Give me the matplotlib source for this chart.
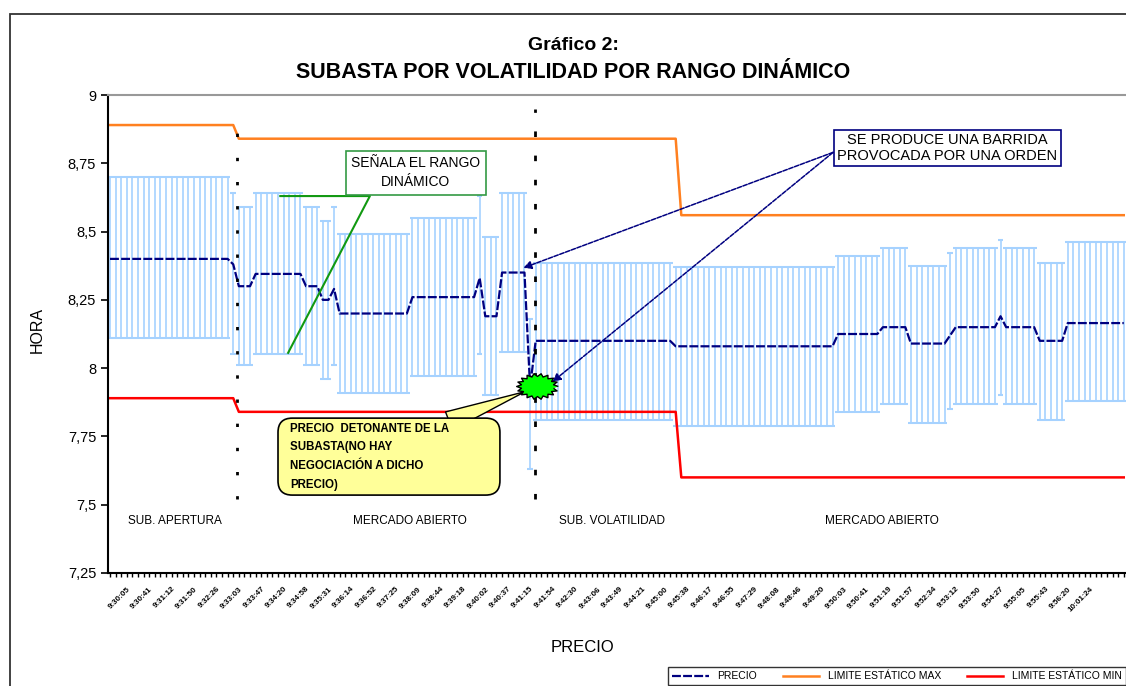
import matplotlib.pyplot as plt
import numpy as np
from matplotlib.path import Path
from matplotlib.patches import Rectangle, FancyBboxPatch

plt.rcParams['font.family'] = ['Liberation Sans', 'DejaVu Sans']

# tramos de operaciones: nº de operaciones, rango dinámico (alto/bajo) y precio
seg_len = [22, 1, 3, 9, 3, 2, 1, 13, 12, 1, 3, 5, 1, 25, 29, 8, 5, 7, 1, 8, 1, 6, 5, 11]
seg_alto = [8.70, 8.64, 8.59, 8.64, 8.59, 8.54, 8.59, 8.49, 8.55, 8.63, 8.48, 8.64,
            8.18, 8.385, 8.37, 8.41, 8.44, 8.375, 8.42, 8.44, 8.47, 8.44, 8.385, 8.46]
seg_bajo = [8.11, 8.05, 8.01, 8.05, 8.01, 7.96, 8.01, 7.91, 7.97, 8.05, 7.90, 8.06,
            7.63, 7.81, 7.79, 7.84, 7.87, 7.80, 7.85, 7.87, 7.90, 7.87, 7.81, 7.88]
seg_precio = [8.40, 8.38, 8.30, 8.345, 8.30, 8.25, 8.29, 8.20, 8.26, 8.33, 8.19, 8.35,
              7.93, 8.10, 8.08, 8.125, 8.15, 8.09, 8.12, 8.15, 8.19, 8.15, 8.10, 8.165]

# limites estaticos
lim_len = [23, 79, 80]
lim_max = [8.89, 8.84, 8.56]
lim_min = [7.89, 7.84, 7.60]

# cambios de fase (sub. apertura / mercado / sub. volatilidad)
cortes = [22.7, 75.8]

horas = ["9:30:05", "9:30:41", "9:31:12", "9:31:50", "9:32:26", "9:33:03", "9:33:47",
         "9:34:20", "9:34:58", "9:35:31", "9:36:14", "9:36:52", "9:37:25", "9:38:09",
         "9:38:44", "9:39:18", "9:40:02", "9:40:37", "9:41:15", "9:41:54", "9:42:30",
         "9:43:06", "9:43:49", "9:44:21", "9:45:00", "9:45:38", "9:46:17", "9:46:55",
         "9:47:29", "9:48:08", "9:48:46", "9:49:20", "9:50:03", "9:50:41", "9:51:19",
         "9:51:57", "9:52:34", "9:53:12", "9:53:50", "9:54:27", "9:55:05", "9:55:43",
         "9:56:20", "10:01:24"]

alto = np.repeat(seg_alto, seg_len)
bajo = np.repeat(seg_bajo, seg_len)
precio = np.repeat(seg_precio, seg_len)
maximo = np.repeat(lim_max, lim_len)
minimo = np.repeat(lim_min, lim_len)
x = np.arange(len(precio))

fig = plt.figure(figsize=(11.26, 6.86), dpi=100)
ax = fig.add_axes([108/1126, 113/686, 1018/1126, 478/686])

# marco exterior
fig.add_artist(Rectangle((10/1126, -0.5), 2, 1 - 14/686 + 0.5, transform=fig.transFigure,
                         fill=False, ec='#333333', lw=1.3))

# rango dinamico
azul_claro = '#A6D2FF'
ax.vlines(x, bajo, alto, color=azul_claro, lw=1.2, zorder=1)
ax.hlines(alto, x - 0.5, x + 0.5, color=azul_claro, lw=1.5, zorder=1)
ax.hlines(bajo, x - 0.5, x + 0.5, color=azul_claro, lw=1.5, zorder=1)

l1, = ax.plot(x, precio, color='#000080', lw=1.6, ls=(0, (4, 1)), zorder=3, label='PRECIO')
l2, = ax.plot(x, maximo, color='#FF8020', lw=1.8, zorder=2, label='LIMITE ESTÁTICO MAX')
l3, = ax.plot(x, minimo, color='#FF0000', lw=1.8, zorder=2, label='LIMITE ESTÁTICO MIN')

ax.vlines(cortes[0], 7.52, 8.87, color='black', lw=2, ls=(0, (1.2, 7.5)), zorder=4)
ax.vlines(cortes[1], 7.52, 8.95, color='black', lw=2, ls=(0, (2.0, 6.7)), zorder=4)

# fases
for xi, txt in [(11.6, 'SUB. APERTURA'), (53.6, 'MERCADO ABIERTO'),
                (89.6, 'SUB. VOLATILIDAD'), (137.9, 'MERCADO ABIERTO')]:
    ax.text(xi, 7.44, txt, ha='center', va='center', fontsize=8.5)

# señala el rango
ax.plot([30.4, 46.4, 31.8], [8.63, 8.63, 8.056], color='#119911', lw=1.5, zorder=5)
ax.text(54.6, 8.715, 'SEÑALA EL RANGO\nDINÁMICO', ha='center', va='center', fontsize=10,
        linespacing=1.45, zorder=6,
        bbox=dict(boxstyle='square,pad=0.4', fc='white', ec='#339944', lw=1.2))

# barrida
ax.text(149.5, 8.806, 'SE PRODUCE UNA BARRIDA\nPROVOCADA POR UNA ORDEN', ha='center',
        va='center', fontsize=10.5, linespacing=1.15, zorder=6,
        bbox=dict(boxstyle='square,pad=0.25', fc='white', ec='#000080', lw=1.2))
for xy in [(73.8, 8.367), (79.0, 7.95)]:
    ax.annotate('', xy=xy, xytext=(129.1, 8.79), zorder=7,
                arrowprops=dict(arrowstyle='-|>', color='#000080', lw=1.1,
                                ls=(0, (3, 1)), mutation_scale=12, shrinkA=0, shrinkB=0))

# precio detonante (globo amarillo)
caja = FancyBboxPatch((0.167, 0.163), 0.218, 0.161, transform=ax.transAxes,
                      boxstyle='round,pad=0,rounding_size=0.014', mutation_aspect=2.13,
                      fc='#FFFF99', ec='black', lw=1.2, zorder=6)
ax.add_patch(caja)
ax.annotate('', xy=(75.5, 7.925), xytext=(0.335, 0.318), textcoords='axes fraction',
            zorder=5, arrowprops=dict(arrowstyle='wedge,tail_width=1.4', fc='#FFFF99',
                                      ec='black', shrinkA=0, shrinkB=6))
ax.text(0.179, 0.243, 'PRECIO  DETONANTE DE LA\nSUBASTA(NO HAY\nNEGOCIACIÓN A DICHO\nPRECIO)',
        transform=ax.transAxes, ha='left', va='center', fontsize=8.3, fontweight='bold',
        linespacing=1.75, zorder=7)

k = 18
ang = np.linspace(0, 2*np.pi, 2*k, endpoint=False)
rad = np.where(np.arange(2*k) % 2 == 0, 1.0, 0.78)
estrella = Path(np.column_stack([rad*np.cos(ang), 0.62*rad*np.sin(ang)]))
ax.plot(76.3, 7.935, marker=estrella, ms=30, mfc='#00FF00', mec='black', mew=1, zorder=8)

# ejes
ax.set_xlim(-0.36, 181.4)
ax.set_ylim(7.25, 9)
yt = [7.25, 7.5, 7.75, 8, 8.25, 8.5, 8.75, 9]
ax.set_yticks(yt, labels=[f'{v:g}'.replace('.', ',') for v in yt], fontsize=10.5)
ax.set_xticks(x, minor=True)
ax.set_xticks(np.arange(3, 179, 4), labels=horas, rotation=45, ha='right',
              rotation_mode='anchor', fontsize=5.8, fontweight='bold')
ax.tick_params(axis='y', length=5, width=1.2, direction='out')
ax.tick_params(axis='x', which='both', length=3, width=1, direction='out', pad=6)
ax.spines['right'].set_visible(False)
ax.spines['top'].set_color('#999999')
ax.spines['top'].set_linewidth(1.5)
ax.spines['left'].set_linewidth(1.5)
ax.spines['bottom'].set_linewidth(1.5)

fig.text(37/1126, 1 - 330/686, 'HORA', rotation=90, ha='center', va='center', fontsize=11.5)
fig.text(583/1126, 1 - 648/686, 'PRECIO', ha='center', va='center', fontsize=12)
fig.text(573/1126, 1 - 45/686, 'Gráfico 2:', ha='center', va='center', fontsize=14,
         fontweight='bold')
fig.text(573/1126, 1 - 73/686, 'SUBASTA POR VOLATILIDAD POR RANGO DINÁMICO', ha='center',
         va='center', fontsize=15.5, fontweight='bold')

fig.legend(handles=[l1, l2, l3], loc='upper left', bbox_to_anchor=(668/1126, 1 - 667/686),
           ncol=3, fontsize=7.5, frameon=True, fancybox=False, edgecolor='black',
           handlelength=3.5, columnspacing=2.5, borderaxespad=0)

fig.savefig('out.png', dpi=100)
